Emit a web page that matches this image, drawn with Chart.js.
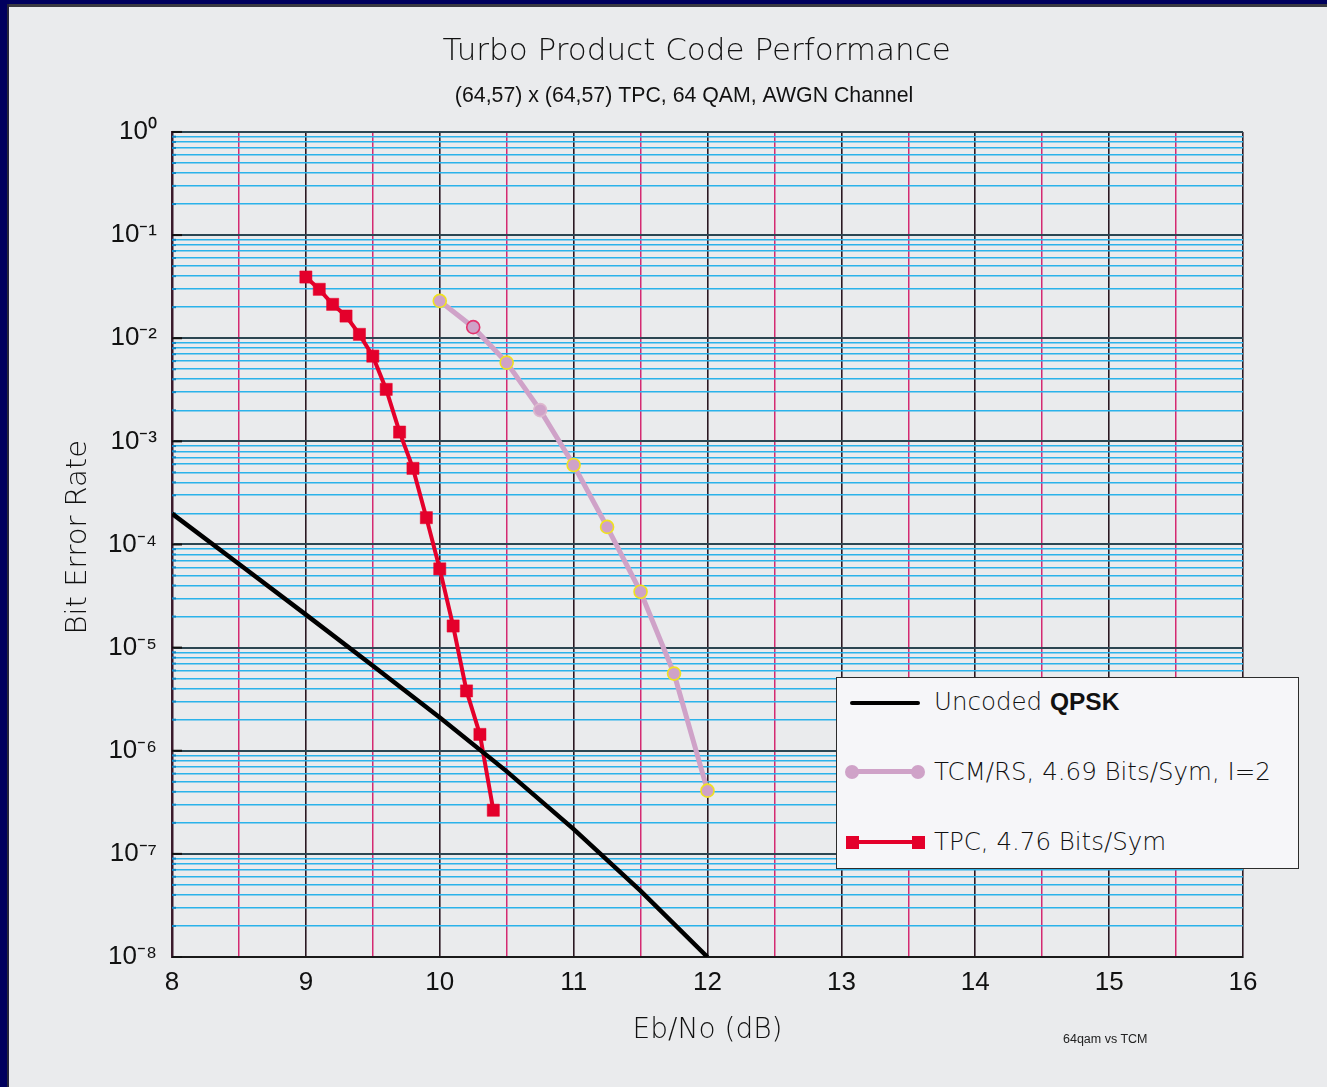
<!DOCTYPE html>
<html><head><meta charset="utf-8">
<script src="https://cdn.jsdelivr.net/npm/chart.js@4/dist/chart.umd.min.js"></script>
<style>
html,body{margin:0;padding:0;}
body{width:1327px;height:1087px;position:relative;overflow:hidden;background:#EAEBED;}
#navyTop{position:absolute;left:0;top:0;width:1327px;height:4px;background:#00005E;}
#greyTop{position:absolute;left:7px;top:4px;width:1320px;height:3px;background:#3a3a42;}
#navyLeft{position:absolute;left:0;top:0;width:7px;height:1087px;background:#00005E;}
#lineLeft{position:absolute;left:7px;top:4px;width:1.5px;height:1083px;background:#26263a;}
#wrap{position:absolute;left:0;top:0;width:1327px;height:1087px;}
#legend{position:absolute;left:836px;top:677px;width:463px;height:192px;box-sizing:border-box;border:1.5px solid #2c2c2c;background:#F6F6F9;font-family:"DejaVu Sans";font-size:24.5px;color:#111;}
#legend .row{position:absolute;left:97px;height:30px;line-height:30px;white-space:nowrap;font-weight:300;}
#legend .ln{position:absolute;}
#legend b{font-family:"Liberation Sans";font-weight:bold;}
#note{position:absolute;left:1063px;top:1032px;font-family:"Liberation Sans";font-size:12.5px;color:#222;white-space:nowrap;}
</style></head>
<body>
<div id="navyTop"></div><div id="greyTop"></div><div id="navyLeft"></div><div id="lineLeft"></div>
<div id="wrap"><canvas id="c" width="1327" height="1087"></canvas></div>
<div id="legend">
  <div class="ln" style="left:13px;top:22.5px;width:70px;height:4px;border-radius:2px;background:#000"></div>
  <div class="row" style="top:9px">Uncoded <b>QPSK</b></div>
  <div class="ln" style="left:15px;top:91px;width:66px;height:5px;background:#CFA2C8"></div>
  <div class="ln" style="left:8px;top:86.5px;width:14px;height:14px;border-radius:50%;background:#CFA2C8"></div>
  <div class="ln" style="left:74px;top:86.5px;width:14px;height:14px;border-radius:50%;background:#CFA2C8"></div>
  <div class="row" style="top:79px">TCM/RS, 4.69 Bits/Sym, I=2</div>
  <div class="ln" style="left:15px;top:162px;width:66px;height:4px;background:#E4002B"></div>
  <div class="ln" style="left:9px;top:157.5px;width:13px;height:13px;background:#E4002B"></div>
  <div class="ln" style="left:75px;top:157.5px;width:13px;height:13px;background:#E4002B"></div>
  <div class="row" style="top:149px">TPC, 4.76 Bits/Sym</div>
</div>
<div id="note">64qam vs TCM</div>
<script>
// ---- data ----
const ebnoQPSK = [8, 8.5, 9, 9.5, 10, 10.5, 11, 11.5, 12];
const berQPSK  = [1.99e-4, 6.46e-5, 2.09e-5, 6.68e-6, 2.10e-6, 6.31e-7, 1.74e-7, 4.37e-8, 1.0e-8];
const ebnoTCM  = [10.0, 10.25, 10.5, 10.75, 11.0, 11.25, 11.5, 11.75, 12.0];
const berTCM   = [2.30e-2, 1.28e-2, 5.8e-3, 2.01e-3, 5.9e-4, 1.48e-4, 3.48e-5, 5.6e-6, 4.1e-7];
const ebnoTPC  = [9.0, 9.1, 9.2, 9.3, 9.4, 9.5, 9.6, 9.7, 9.8, 9.9, 10.0, 10.1, 10.2, 10.3, 10.4];
const berTPC   = [3.92e-2, 2.98e-2, 2.13e-2, 1.64e-2, 1.09e-2, 6.7e-3, 3.19e-3, 1.23e-3, 5.47e-4, 1.82e-4, 5.8e-5, 1.62e-5, 3.8e-6, 1.44e-6, 2.65e-7];
const seriesNames = ['Uncoded QPSK', 'TCM/RS, 4.69 Bits/Sym, I=2', 'TPC, 4.76 Bits/Sym'];
const xTickValues = [8, 8.5, 9, 9.5, 10, 10.5, 11, 11.5, 12, 12.5, 13, 13.5, 14, 14.5, 15, 15.5, 16];
const yDecades = [-8, -7, -6, -5, -4, -3, -2, -1, 0];

const yTickValues = [];
yDecades.forEach(e => {
  for (let k = 1; k <= 9; k++) {
    if (e === 0 && k > 1) break;
    yTickValues.push(parseFloat(k + 'e' + e));
  }
});
const isDecade = v => { const l = Math.log10(v); return Math.abs(l - Math.round(l)) < 1e-6; };
const SUP = {'0':'⁰','1':'¹','2':'²','3':'³','4':'⁴','5':'⁵','6':'⁶','7':'⁷','8':'⁸','9':'⁹','-':'⁻'};
const pts = (xs, ys) => xs.map((x, i) => ({x, y: ys[i]}));

const tickStubs = {
  id: 'tickStubs',
  beforeDatasetsDraw(chart) {
    const ys = chart.scales.y, ctx = chart.ctx, left = chart.chartArea.left;
    ctx.save();
    ys.ticks.forEach(t => {
      const py = ys.getPixelForValue(t.value);
      const d = isDecade(t.value);
      ctx.strokeStyle = d ? '#111111' : '#0f86c4';
      ctx.lineWidth = 2;
      ctx.beginPath(); ctx.moveTo(left, py); ctx.lineTo(left + (d ? 10 : 4), py); ctx.stroke();
    });
    ctx.restore();
  }
};

new Chart(document.getElementById('c'), {
  type: 'line',
  data: {
    datasets: [
      { label: seriesNames[0], data: pts(ebnoQPSK, berQPSK), borderColor: '#000000', borderWidth: 4.5, pointRadius: 0, tension: 0 },
      { label: seriesNames[2], data: pts(ebnoTPC, berTPC), borderColor: '#E4002B', backgroundColor: '#E4002B', borderWidth: 4,
        pointStyle: 'rect', pointRadius: 8.6, pointBorderWidth: 0.5, pointBorderColor: '#E4002B', pointBackgroundColor: '#E4002B', tension: 0 },
      { label: seriesNames[1], data: pts(ebnoTCM, berTCM), borderColor: '#CFA2C8', backgroundColor: '#CFA2C8', borderWidth: 5,
        pointStyle: 'circle', pointRadius: 6.5, pointBorderWidth: 1.6,
        pointBorderColor: ['#F0E21E', '#E2336E', '#F0E21E', '#DDB8CE', '#F0E21E', '#F0E21E', '#F0E21E', '#F0E21E', '#F0E21E'],
        pointBackgroundColor: '#CFA2C8', tension: 0 }
    ]
  },
  options: {
    responsive: false,
    animation: false,
    devicePixelRatio: 1,
    layout: { padding: { left: 0, right: 84, top: 0, bottom: 0 } },
    plugins: {
      legend: { display: false },
      tooltip: { enabled: false },
      title: { display: true, fullSize: false, text: 'Turbo Product Code Performance\u2002\u2009', color: '#111',
        font: { family: 'DejaVu Sans', size: 31, weight: '300' }, padding: { top: 33.4, bottom: 0 } },
      subtitle: { display: true, fullSize: false, text: '(64,57) x (64,57) TPC, 64 QAM, AWGN Channel\u2003\u2003\u2009', color: '#111',
        font: { family: 'Liberation Sans', size: 21.3, weight: 'normal' }, padding: { top: 12.6, bottom: 23.2 } }
    },
    scales: {
      x: {
        type: 'linear', min: 8, max: 16,
        afterBuildTicks: s => { s.ticks = xTickValues.map(v => ({ value: v })); },
        afterFit: s => { s.height = 130; },
        ticks: { autoSkip: false, maxRotation: 0, padding: 10.4, color: '#111',
          font: { family: 'Liberation Sans', size: 26 },
          callback: v => Number.isInteger(v) ? String(v) : '' },
        grid: { drawTicks: false,
          color: c => Number.isInteger(c.tick.value) ? '#2a1822' : '#D42A72',
          lineWidth: c => Number.isInteger(c.tick.value) ? 1.6 : 1.5 },
        border: { display: true, color: '#1a1a1a', width: 2 },
        title: { display: true, text: 'Eb/No (dB)', color: '#111',
          font: { family: 'DejaVu Sans', size: 28, weight: '300' }, padding: { top: 0, bottom: 39.2 } }
      },
      y: {
        type: 'logarithmic', min: 1e-8, max: 1,
        afterBuildTicks: s => { s.ticks = yTickValues.map(v => ({ value: v, major: isDecade(v) })); },
        afterFit: s => { s.width = 172; },
        ticks: { autoSkip: false, padding: 15, color: '#111',
          font: { family: 'Liberation Sans', size: 26 },
          callback: v => {
            if (!isDecade(v)) return '';
            const e = Math.round(Math.log10(v));
            return '10' + String(e).split('').map(ch => SUP[ch]).join('');
          } },
        grid: { drawTicks: false,
          color: c => isDecade(c.tick.value) ? '#2C4652' : '#2AB2EA',
          lineWidth: c => isDecade(c.tick.value) ? 2 : 1.6 },
        border: { display: true, color: '#3a1a2c', width: 2.5 },
        title: { display: true, text: '\u2002Bit Error Rate', color: '#111',
          font: { family: 'DejaVu Sans', size: 29, weight: '300' }, padding: { top: 60.6, bottom: 0 } }
      }
    }
  },
  plugins: [tickStubs]
});
</script>
</body></html>
